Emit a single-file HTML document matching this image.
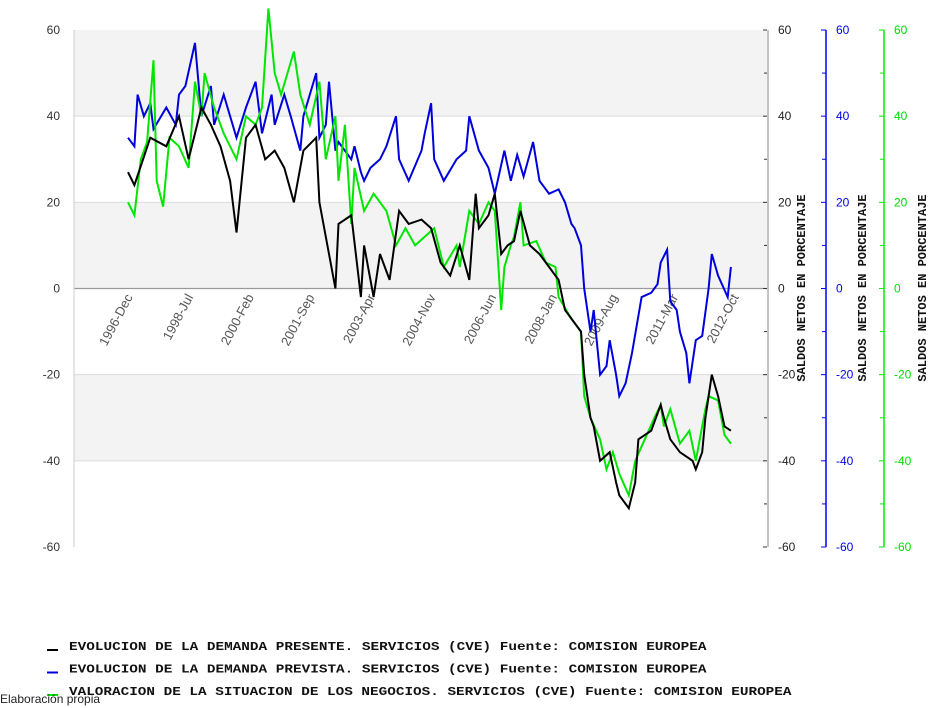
<!DOCTYPE html>
<html><head><meta charset="utf-8">
<style>
body{margin:0;background:#fff;width:941px;height:708px;overflow:hidden;font-family:"Liberation Sans",sans-serif;}
svg{display:block}
</style></head>
<body>
<svg id="chart" width="941" height="708" xmlns="http://www.w3.org/2000/svg"></svg>
<script>
const yTicks=[60,40,20,0,-20,-40,-60];
const xLabels=["1996-Dec","1998-Jul","2000-Feb","2001-Sep","2003-Apr","2004-Nov","2006-Jun","2008-Jan","2009-Aug","2011-Mar","2012-Oct"];
const xLabelMonths=[0,19,38,57,76,95,114,133,152,171,190];
const blackMonths=[0,2,7,12,16,19,23,26,29,32,34,37,40,43,46,49,52,55,59,60,63,65,66,70,73,74,77,79,82,85,88,92,95,98,101,104,107,109,110,113,115,117,119,121,123,126,129,132,135,137,140,142,143,145,146,148,151,153,154,157,159,160,164,167,168,170,173,177,178,180,181,183,185,187,189];
const blackValues=[27,24,35,33,40,30,42,38,33,25,13,35,38,30,32,28,20,32,35,20,8,0,15,17,-2,10,-2,8,2,18,15,16,14,6,3,10,2,22,14,17,22,8,10,11,18,10,8,5,2,-5,-8,-10,-20,-30,-32,-40,-38,-45,-48,-51,-45,-35,-33,-27,-30,-35,-38,-40,-42,-38,-30,-20,-25,-32,-33];
const greenMonths=[0,2,4,6,8,9,11,13,16,19,21,23,24,27,30,34,37,40,42,44,46,48,50,52,54,57,60,62,65,66,68,70,71,74,77,81,84,87,90,93,96,98,99,103,104,107,110,113,115,117,118,120,121,123,124,128,131,134,135,139,142,143,145,148,150,152,154,157,159,162,165,167,168,170,173,176,178,181,182,185,187,189];
const greenValues=[20,17,30,34,53,25,19,35,33,28,48,40,50,42,36,30,40,38,42,65,50,45,50,55,45,38,48,30,40,25,38,15,28,18,22,18,10,14,10,12,14,8,5,10,5,18,15,20,18,-5,5,10,12,20,10,11,6,5,-2,-7,-10,-25,-30,-35,-42,-38,-43,-48,-40,-35,-30,-27,-32,-28,-36,-33,-40,-28,-25,-26,-34,-36];
const blueMonths=[0,2,3,5,7,8,12,15,16,18,21,23,26,27,30,34,37,40,42,45,46,49,51,54,55,59,60,62,63,65,66,70,71,73,74,76,79,81,84,85,88,92,93,95,96,99,103,106,107,110,113,115,118,120,122,124,127,129,132,135,137,139,140,142,143,145,146,148,150,151,153,154,156,158,161,164,166,167,169,170,172,173,175,176,178,180,182,183,185,188,189];
const blueValues=[35,33,45,40,43,37,42,38,45,47,57,40,47,38,45,35,42,48,36,45,38,45,40,32,40,50,35,38,48,32,34,30,33,27,25,28,30,33,40,30,25,32,36,43,30,25,30,32,40,32,28,22,32,25,31,26,34,25,22,23,20,15,14,10,0,-10,-5,-20,-18,-12,-20,-25,-22,-15,-2,-1,1,6,9,-3,-5,-10,-15,-22,-12,-11,0,8,3,-2,5];
const legendLabels=["EVOLUCION DE LA DEMANDA PRESENTE. SERVICIOS (CVE)  Fuente: COMISION EUROPEA","EVOLUCION DE LA DEMANDA PREVISTA. SERVICIOS (CVE)  Fuente: COMISION EUROPEA","VALORACION DE LA SITUACION DE LOS NEGOCIOS. SERVICIOS (CVE)  Fuente: COMISION EUROPEA"];

const NS="http://www.w3.org/2000/svg";
const svg=document.getElementById('chart');
const L=74,R=767,T=30,B=547;
const y=v=>T+(60-v)*(B-T)/120;
const x=m=>128+m*3.19;
function mk(tag,attrs,parent){const e=document.createElementNS(NS,tag);for(const k in attrs)e.setAttribute(k,attrs[k]);(parent||svg).appendChild(e);return e;}

for(let i=0;i<6;i+=2){
  const b=mk('rect',{x:L,y:y(60-i*20),width:R-L,height:y(40)-y(60),fill:'#f3f3f3'});
  
  
}
[40,20,-20,-40].forEach(v=>{const g=mk('line',{x1:L,x2:R,y1:y(v),y2:y(v),stroke:'#dcdcdc','stroke-width':1});
  });
const z=mk('line',{x1:L,x2:R,y1:y(0),y2:y(0),stroke:'#999','stroke-width':1.3});

const la=mk('line',{x1:L,x2:L,y1:T,y2:B,stroke:'#ccc'});


yTicks.forEach(v=>{const t=mk('text',{x:60,y:y(v)+4,'text-anchor':'end','font-size':12,fill:'#333'});t.textContent=v;
  });

const axes=[{ax:768,col:'#888',tc:'#222',title:805},{ax:826,col:'#0000ff',tc:'#0000ee',title:866},{ax:884,col:'#00ee00',tc:'#00dd00',title:926}];
axes.forEach((a,i)=>{
  const g=mk('g',{});
  
  mk('line',{x1:a.ax,x2:a.ax,y1:T,y2:B,stroke:a.col,'stroke-width':i?1.5:1},g);
  for(let v=-60;v<=60;v+=10){
    const major=v%20===0;
    mk('line',{x1:a.ax-(major?5:4),x2:i?a.ax:a.ax-1,y1:y(v),y2:y(v),stroke:i?a.col:'#333','stroke-width':1},g);
  }
  yTicks.forEach(v=>{const t=mk('text',{x:a.ax+10,y:y(v)+4,'font-size':12,fill:a.tc},g);t.textContent=v;});
  const tt=mk('text',{x:a.title,y:288,'text-anchor':'middle','font-family':'"Liberation Mono",monospace','font-weight':'bold','font-size':12,fill:'#111',transform:`rotate(-90 ${a.title} 288)`},g);
  tt.textContent='SALDOS NETOS EN PORCENTAJE';
});

xLabels.forEach((lab,i)=>{const px=x(xLabelMonths[i])+5;
  const t=mk('text',{x:px,y:297,'text-anchor':'end','font-size':13,fill:'#555',transform:`rotate(-62 ${px} 297)`});t.textContent=lab;
  });

function series(ms,vs,col,name){
  const d=ms.map((m,i)=>(i?'L':'M')+x(m).toFixed(1)+' '+y(vs[i]).toFixed(1)).join(' ');
  const p=mk('path',{d:d,fill:'none',stroke:col,'stroke-width':2,'stroke-linejoin':'miter'});
  
  
}
series(blueMonths,blueValues,'#0000dd','series-demanda-prevista');
series(greenMonths,greenValues,'#00e600','series-situacion-negocios');
series(blackMonths,blackValues,'#000','series-demanda-presente');

const lcols=['#000','#0000dd','#00e600'];
legendLabels.forEach((lab,i)=>{
  const yy=646+i*22.5;
  const g=mk('g',{});
  
  mk('line',{x1:47,x2:58,y1:yy+4,y2:yy+4,stroke:lcols[i],'stroke-width':2},g);
  const t=mk('text',{x:69,y:yy+4,'font-family':'"Liberation Mono",monospace','font-size':12,'font-weight':'bold',fill:'#111',textLength:lab.length*8.5,lengthAdjust:'spacingAndGlyphs'},g);
  t.textContent=lab;
});
const ep=mk('text',{x:0,y:703,'font-size':12,fill:'#222'});ep.textContent='Elaboración propia';

</script>
</body></html>
